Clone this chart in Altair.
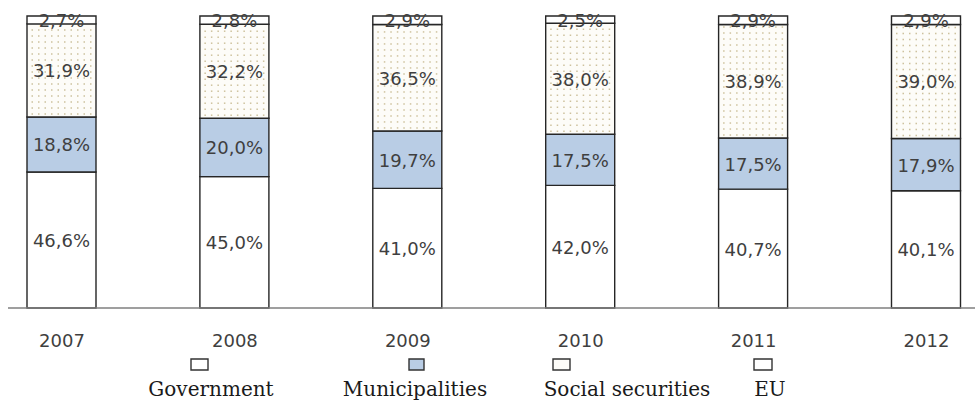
import altair as alt
import pandas as pd
import numpy as np

# ---- data ----
years = ["2007", "2008", "2009", "2010", "2011", "2012"]
series = ["Government", "Municipalities", "Social securities", "EU"]
government = [46.6, 45.0, 41.0, 42.0, 40.7, 40.1]
municipalities = [18.8, 20.0, 19.7, 17.5, 17.5, 17.9]
social = [31.9, 32.2, 36.5, 38.0, 38.9, 39.0]
eu = [2.7, 2.8, 2.9, 2.5, 2.9, 2.9]

fills = {"Government": "#ffffff", "Municipalities": "#b9cde5",
         "Social securities": "#fdfcf8", "EU": "#ffffff"}

rows = []
for i, y in enumerate(years):
    vals = [government[i], municipalities[i], social[i], eu[i]]
    tot = sum(vals)
    lo = 0.0
    for s, v in zip(series, vals):
        hi = lo + v / tot * 100
        rows.append({"idx": i, "year": y, "series": s, "value": v,
                     "lo": lo, "hi": hi, "mid": (lo + hi) / 2,
                     "label": f"{v:.1f}".replace(".", ",") + "%"})
        lo = hi
df = pd.DataFrame(rows)

# dotted texture for the Social securities segments (derived from segment extents)
STEP_PX = 172.9          # pixel distance between bar centres
Y_PX = 2.92              # pixels per percentage point
dots = []
soc = df[df.series == "Social securities"]
for _, r in soc.iterrows():
    for ox in np.arange(-29.25, 30, 6.5):
        for yy in np.arange(r.lo + 3 / Y_PX, r.hi - 2 / Y_PX, 6 / Y_PX):
            dots.append({"x": r.idx + ox / STEP_PX, "y": yy})
dots_df = pd.DataFrame(dots)

W, H = 975, 292
xdom = [-61.5 / STEP_PX, -61.5 / STEP_PX + W / STEP_PX]
xscale = alt.Scale(domain=xdom, nice=False, zero=False, padding=0)
yscale = alt.Scale(domain=[0, 100], nice=False, zero=True, padding=0)

label_expr = "[" + ",".join(f"'{y}'" for y in years) + "][datum.value]"
xaxis = alt.Axis(values=list(range(len(years))), labelExpr=label_expr,
                 domain=False, ticks=False, grid=False, title=None,
                 labelFont="DejaVu Sans", labelFontSize=18,
                 labelColor="#3f3f3f", labelPadding=24)

bars = alt.Chart(df).mark_bar(size=69, stroke="#262626", strokeWidth=1.4).encode(
    x=alt.X("idx:Q", scale=xscale, axis=xaxis),
    y=alt.Y("lo:Q", scale=yscale, axis=None),
    y2="hi:Q",
    fill=alt.Fill("series:N", scale=alt.Scale(domain=series,
                                              range=[fills[s] for s in series]),
                  legend=None),
)

dot_layer = alt.Chart(dots_df).mark_square(size=2.2, color="#c4b68c", opacity=0.85).encode(
    x=alt.X("x:Q", scale=xscale, axis=xaxis),
    y=alt.Y("y:Q", scale=yscale, axis=None),
)

labels = alt.Chart(df).mark_text(font="DejaVu Sans", fontSize=18, color="#3f3f3f",
                                 baseline="middle", dy=2).encode(
    x=alt.X("idx:Q", scale=xscale, axis=xaxis),
    y=alt.Y("mid:Q", scale=yscale, axis=None),
    text="label:N",
)

baseline = alt.Chart(pd.DataFrame({"v": [0]})).mark_rule(
    color="#7f7f7f", strokeWidth=1.5).encode(
    y=alt.Y("v:Q", scale=yscale, axis=None), x=alt.value(8), x2=alt.value(W))

# ---- manual legend (square above label) ----
leg_sq = [(191, 208), (409, 424), (553, 570), (754, 772)]
leg_tx = [211, 415, 627, 770]
legend_layers = []
for s, (a, b), tx in zip(series, leg_sq, leg_tx):
    legend_layers.append(
        alt.Chart(pd.DataFrame({"s": [s]})).mark_rect(
            fill=fills[s], stroke="#333333", strokeWidth=1.4).encode(
            x=alt.value(a), x2=alt.value(b), y=alt.value(359 - 16), y2=alt.value(370 - 16)))
    legend_layers.append(
        alt.Chart(pd.DataFrame({"s": [s]})).mark_text(
            font="DejaVu Serif", fontSize=20, color="#1a1a1a",
            baseline="alphabetic", align="center").encode(
            x=alt.value(tx), y=alt.value(396 - 16), text="s:N"))

chart = alt.layer(bars, dot_layer, labels, baseline, *legend_layers).properties(
    width=W, height=H,
    background="#ffffff",
    autosize=alt.AutoSizeParams(type="none"),
    padding={"left": 0, "top": 16, "right": 0, "bottom": 97},
).configure_view(strokeWidth=0, stroke="transparent").configure_axis(grid=False)

chart.save("out.html", embed_options={"renderer": "svg", "actions": False})
